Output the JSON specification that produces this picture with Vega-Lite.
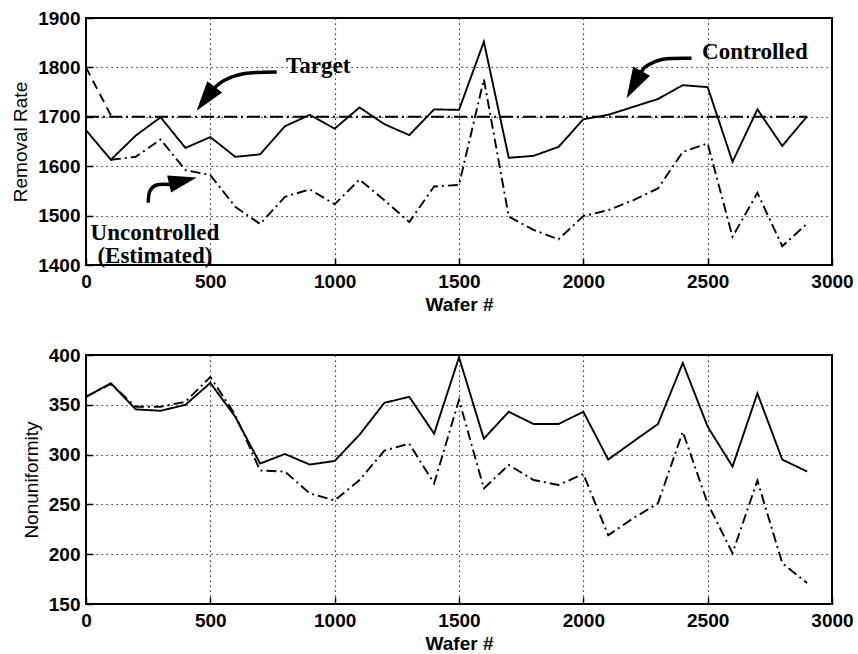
{
  "$schema": "https://vega.github.io/schema/vega-lite/v6.json",
  "background": "white",
  "padding": {"left": 10, "top": 8, "right": 10, "bottom": 4},
  "spacing": 30,
  "config": {
    "font": "Liberation Sans",
    "view": {"stroke": "black", "strokeWidth": 2},
    "axis": {
      "grid": true, "gridColor": "black", "gridDash": [1.2, 3.8], "gridOpacity": 1, "gridWidth": 1.1,
      "domain": false, "ticks": true, "tickSize": -7, "tickColor": "black", "tickWidth": 1.5, "format": "d",
      "labelFont": "Liberation Sans", "labelFontWeight": "bold", "labelFontSize": 19, "labelColor": "black",
      "titleFont": "Liberation Sans", "titleFontSize": 19, "titleColor": "black",
      "labelOverlap": false, "labelFlush": false
    },
    "axisX": {"labelPadding": 14, "titlePadding": 4, "titleFontWeight": "bold"},
    "axisY": {"labelPadding": 13, "titlePadding": 7, "titleFontWeight": "normal", "titleFontSize": 19}
  },
  "datasets": {
    "rr": [
      {"w": 0, "v": 1673, "s": "Controlled"}, {"w": 100, "v": 1613, "s": "Controlled"}, {"w": 200, "v": 1662, "s": "Controlled"},
      {"w": 300, "v": 1699, "s": "Controlled"}, {"w": 400, "v": 1637, "s": "Controlled"}, {"w": 500, "v": 1659, "s": "Controlled"},
      {"w": 600, "v": 1619, "s": "Controlled"}, {"w": 700, "v": 1624, "s": "Controlled"}, {"w": 800, "v": 1681, "s": "Controlled"},
      {"w": 900, "v": 1704, "s": "Controlled"}, {"w": 1000, "v": 1676, "s": "Controlled"}, {"w": 1100, "v": 1719, "s": "Controlled"},
      {"w": 1200, "v": 1685, "s": "Controlled"}, {"w": 1300, "v": 1663, "s": "Controlled"}, {"w": 1400, "v": 1715, "s": "Controlled"},
      {"w": 1500, "v": 1714, "s": "Controlled"}, {"w": 1600, "v": 1852, "s": "Controlled"}, {"w": 1700, "v": 1617, "s": "Controlled"},
      {"w": 1800, "v": 1621, "s": "Controlled"}, {"w": 1900, "v": 1639, "s": "Controlled"}, {"w": 2000, "v": 1695, "s": "Controlled"},
      {"w": 2100, "v": 1704, "s": "Controlled"}, {"w": 2200, "v": 1720, "s": "Controlled"}, {"w": 2300, "v": 1736, "s": "Controlled"},
      {"w": 2400, "v": 1764, "s": "Controlled"}, {"w": 2500, "v": 1760, "s": "Controlled"}, {"w": 2600, "v": 1609, "s": "Controlled"},
      {"w": 2700, "v": 1715, "s": "Controlled"}, {"w": 2800, "v": 1641, "s": "Controlled"}, {"w": 2900, "v": 1701, "s": "Controlled"},
      {"w": 100, "v": 1613, "s": "Uncontrolled"}, {"w": 200, "v": 1619, "s": "Uncontrolled"}, {"w": 300, "v": 1654, "s": "Uncontrolled"},
      {"w": 400, "v": 1592, "s": "Uncontrolled"}, {"w": 500, "v": 1582, "s": "Uncontrolled"}, {"w": 600, "v": 1518, "s": "Uncontrolled"},
      {"w": 700, "v": 1483, "s": "Uncontrolled"}, {"w": 800, "v": 1538, "s": "Uncontrolled"}, {"w": 900, "v": 1553, "s": "Uncontrolled"},
      {"w": 1000, "v": 1523, "s": "Uncontrolled"}, {"w": 1100, "v": 1573, "s": "Uncontrolled"}, {"w": 1200, "v": 1531, "s": "Uncontrolled"},
      {"w": 1300, "v": 1487, "s": "Uncontrolled"}, {"w": 1400, "v": 1559, "s": "Uncontrolled"}, {"w": 1500, "v": 1562, "s": "Uncontrolled"},
      {"w": 1600, "v": 1776, "s": "Uncontrolled"}, {"w": 1700, "v": 1498, "s": "Uncontrolled"}, {"w": 1800, "v": 1471, "s": "Uncontrolled"},
      {"w": 1900, "v": 1452, "s": "Uncontrolled"}, {"w": 2000, "v": 1499, "s": "Uncontrolled"}, {"w": 2100, "v": 1511, "s": "Uncontrolled"},
      {"w": 2200, "v": 1531, "s": "Uncontrolled"}, {"w": 2300, "v": 1555, "s": "Uncontrolled"}, {"w": 2400, "v": 1629, "s": "Uncontrolled"},
      {"w": 2500, "v": 1646, "s": "Uncontrolled"}, {"w": 2600, "v": 1457, "s": "Uncontrolled"}, {"w": 2700, "v": 1546, "s": "Uncontrolled"},
      {"w": 2800, "v": 1438, "s": "Uncontrolled"}, {"w": 2900, "v": 1484, "s": "Uncontrolled"},
      {"w": 0, "v": 1800, "s": "Initial"}, {"w": 100, "v": 1703, "s": "Initial"},
      {"w": 0, "v": 1700, "s": "Target"}, {"w": 2900, "v": 1700, "s": "Target"}
    ],
    "nu": [
      {"w": 0, "v": 358, "s": "Controlled"}, {"w": 100, "v": 371.6, "s": "Controlled"}, {"w": 200, "v": 345.4, "s": "Controlled"},
      {"w": 300, "v": 344, "s": "Controlled"}, {"w": 400, "v": 350, "s": "Controlled"}, {"w": 500, "v": 372, "s": "Controlled"},
      {"w": 600, "v": 338, "s": "Controlled"}, {"w": 700, "v": 291, "s": "Controlled"}, {"w": 800, "v": 300.6, "s": "Controlled"},
      {"w": 900, "v": 290, "s": "Controlled"}, {"w": 1000, "v": 293.6, "s": "Controlled"}, {"w": 1100, "v": 320, "s": "Controlled"},
      {"w": 1200, "v": 352, "s": "Controlled"}, {"w": 1300, "v": 358, "s": "Controlled"}, {"w": 1400, "v": 321, "s": "Controlled"},
      {"w": 1500, "v": 397.7, "s": "Controlled"}, {"w": 1600, "v": 316, "s": "Controlled"}, {"w": 1700, "v": 343, "s": "Controlled"},
      {"w": 1800, "v": 330.7, "s": "Controlled"}, {"w": 1900, "v": 330.7, "s": "Controlled"}, {"w": 2000, "v": 343, "s": "Controlled"},
      {"w": 2100, "v": 295, "s": "Controlled"}, {"w": 2200, "v": 313, "s": "Controlled"}, {"w": 2300, "v": 330.7, "s": "Controlled"},
      {"w": 2400, "v": 392, "s": "Controlled"}, {"w": 2500, "v": 328, "s": "Controlled"}, {"w": 2600, "v": 288, "s": "Controlled"},
      {"w": 2700, "v": 361.5, "s": "Controlled"}, {"w": 2800, "v": 295, "s": "Controlled"}, {"w": 2900, "v": 283, "s": "Controlled"},
      {"w": 0, "v": 358, "s": "Uncontrolled"}, {"w": 100, "v": 371, "s": "Uncontrolled"}, {"w": 200, "v": 348, "s": "Uncontrolled"},
      {"w": 300, "v": 348, "s": "Uncontrolled"}, {"w": 400, "v": 353, "s": "Uncontrolled"}, {"w": 500, "v": 378, "s": "Uncontrolled"},
      {"w": 600, "v": 340, "s": "Uncontrolled"}, {"w": 700, "v": 284, "s": "Uncontrolled"}, {"w": 800, "v": 283, "s": "Uncontrolled"},
      {"w": 900, "v": 261, "s": "Uncontrolled"}, {"w": 1000, "v": 254, "s": "Uncontrolled"}, {"w": 1100, "v": 274.5, "s": "Uncontrolled"},
      {"w": 1200, "v": 304, "s": "Uncontrolled"}, {"w": 1300, "v": 311, "s": "Uncontrolled"}, {"w": 1400, "v": 271, "s": "Uncontrolled"},
      {"w": 1500, "v": 355, "s": "Uncontrolled"}, {"w": 1600, "v": 266, "s": "Uncontrolled"}, {"w": 1700, "v": 289.6, "s": "Uncontrolled"},
      {"w": 1800, "v": 274.5, "s": "Uncontrolled"}, {"w": 1900, "v": 269.5, "s": "Uncontrolled"}, {"w": 2000, "v": 280.5, "s": "Uncontrolled"},
      {"w": 2100, "v": 219, "s": "Uncontrolled"}, {"w": 2200, "v": 236, "s": "Uncontrolled"}, {"w": 2300, "v": 251, "s": "Uncontrolled"},
      {"w": 2400, "v": 323, "s": "Uncontrolled"}, {"w": 2500, "v": 251, "s": "Uncontrolled"}, {"w": 2600, "v": 201, "s": "Uncontrolled"},
      {"w": 2700, "v": 274, "s": "Uncontrolled"}, {"w": 2800, "v": 191, "s": "Uncontrolled"}, {"w": 2900, "v": 171, "s": "Uncontrolled"}
    ],
    "ann": [
      {"label": "Target", "w": 934, "v": 1803},
      {"label": "Controlled", "w": 2690, "v": 1832},
      {"label": "Uncontrolled\n(Estimated)", "w": 277, "v": 1465}
    ],
    "arr": [
      {"a": "Target", "i": 0, "w": 767, "v": 1790.7},
      {"a": "Target", "i": 1, "w": 639, "v": 1787.7},
      {"a": "Target", "i": 2, "w": 559, "v": 1774.5},
      {"a": "Target", "i": 3, "w": 511, "v": 1756},
      {"a": "Controlled", "i": 0, "w": 2435, "v": 1818.4},
      {"a": "Controlled", "i": 1, "w": 2321, "v": 1816.4},
      {"a": "Controlled", "i": 2, "w": 2254, "v": 1802.8},
      {"a": "Controlled", "i": 3, "w": 2232, "v": 1788.7},
      {"a": "Uncontrolled", "i": 0, "w": 250, "v": 1526},
      {"a": "Uncontrolled", "i": 1, "w": 257, "v": 1549.8},
      {"a": "Uncontrolled", "i": 2, "w": 284, "v": 1562},
      {"a": "Uncontrolled", "i": 3, "w": 338, "v": 1563}
    ],
    "heads": [
      {"a": "Target", "w": 445, "v": 1712},
      {"a": "Controlled", "w": 2174, "v": 1737.5},
      {"a": "Uncontrolled", "w": 445, "v": 1577}
    ]
  },
  "vconcat": [
    {
      "width": 746,
      "height": 247,
      "layer": [
        {
          "data": {"name": "rr"},
          "mark": {"type": "line", "color": "black", "strokeWidth": 1.9},
          "encoding": {
            "x": {"field": "w", "type": "quantitative", "title": "Wafer #",
                  "scale": {"domain": [0, 3000], "nice": false},
                  "axis": {"values": [0, 500, 1000, 1500, 2000, 2500, 3000]}},
            "y": {"field": "v", "type": "quantitative", "title": "Removal Rate",
                  "scale": {"domain": [1400, 1900], "nice": false, "zero": false},
                  "axis": {"values": [1400, 1500, 1600, 1700, 1800, 1900]}},
            "detail": {"field": "s", "type": "nominal"},
            "strokeDash": {"field": "s", "type": "nominal", "legend": null,
                           "scale": {"domain": ["Controlled", "Uncontrolled", "Initial", "Target"],
                                     "range": [[1, 0], [10, 4, 2, 4], [9, 6], [13, 4, 2, 4]]}}
          }
        },
        {
          "data": {"name": "arr"},
          "mark": {"type": "line", "color": "black", "strokeWidth": 3.5, "interpolate": "cardinal"},
          "encoding": {
            "x": {"field": "w", "type": "quantitative"},
            "y": {"field": "v", "type": "quantitative"},
            "detail": {"field": "a", "type": "nominal"},
            "order": {"field": "i", "type": "quantitative"}
          }
        },
        {
          "data": {"name": "heads"},
          "transform": [{"filter": "datum.a === 'Target'"}],
          "mark": {"type": "point", "filled": true, "color": "black", "opacity": 1, "size": 900, "angle": 217, "shape": "M0,0L0.62,2L-0.62,2Z"},
          "encoding": {"x": {"field": "w", "type": "quantitative"}, "y": {"field": "v", "type": "quantitative"}}
        },
        {
          "data": {"name": "heads"},
          "transform": [{"filter": "datum.a === 'Controlled'"}],
          "mark": {"type": "point", "filled": true, "color": "black", "opacity": 1, "size": 960, "angle": 209, "shape": "M0,0L0.62,2L-0.62,2Z"},
          "encoding": {"x": {"field": "w", "type": "quantitative"}, "y": {"field": "v", "type": "quantitative"}}
        },
        {
          "data": {"name": "heads"},
          "transform": [{"filter": "datum.a === 'Uncontrolled'"}],
          "mark": {"type": "point", "filled": true, "color": "black", "opacity": 1, "size": 800, "angle": 77, "shape": "M0,0L0.62,2L-0.62,2Z"},
          "encoding": {"x": {"field": "w", "type": "quantitative"}, "y": {"field": "v", "type": "quantitative"}}
        },
        {
          "data": {"name": "ann"},
          "mark": {"type": "text", "font": "Liberation Serif", "fontWeight": "bold", "fontSize": 23, "color": "black",
                   "align": "center", "baseline": "middle", "lineBreak": "\n", "lineHeight": 23},
          "encoding": {
            "x": {"field": "w", "type": "quantitative"},
            "y": {"field": "v", "type": "quantitative"},
            "text": {"field": "label", "type": "nominal"}
          }
        }
      ]
    },
    {
      "width": 746,
      "height": 249,
      "data": {"name": "nu"},
      "mark": {"type": "line", "color": "black", "strokeWidth": 1.9},
      "encoding": {
        "x": {"field": "w", "type": "quantitative", "title": "Wafer #",
              "scale": {"domain": [0, 3000], "nice": false},
              "axis": {"values": [0, 500, 1000, 1500, 2000, 2500, 3000]}},
        "y": {"field": "v", "type": "quantitative", "title": "Nonuniformity",
              "scale": {"domain": [150, 400], "nice": false, "zero": false},
              "axis": {"values": [150, 200, 250, 300, 350, 400]}},
        "detail": {"field": "s", "type": "nominal"},
        "strokeDash": {"field": "s", "type": "nominal", "legend": null,
                       "scale": {"domain": ["Controlled", "Uncontrolled"], "range": [[1, 0], [10, 4, 2, 4]]}}
      }
    }
  ]
}
